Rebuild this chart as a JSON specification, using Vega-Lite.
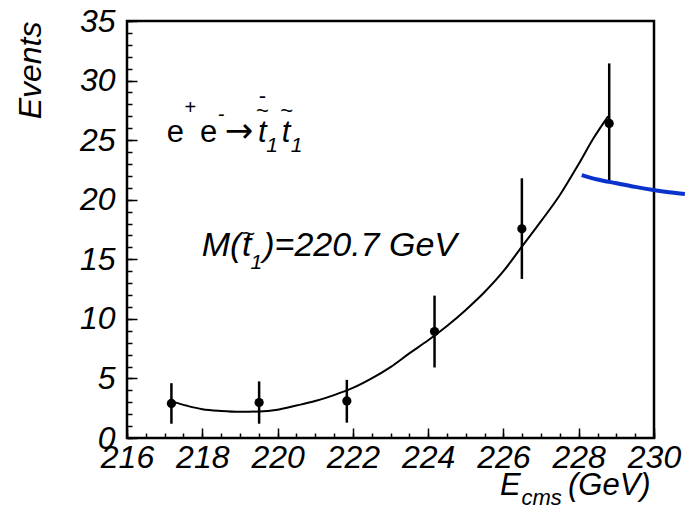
{
  "$schema": "https://vega.github.io/schema/vega-lite/v6.json",
  "width": 527,
  "height": 417,
  "autosize": {"type": "none"},
  "padding": {"left": 127, "top": 21, "right": 31, "bottom": 67},
  "background": "white",
  "config": {
    "view": {"stroke": "black", "strokeWidth": 2.5},
    "font": "Liberation Sans",
    "axis": {"grid": false, "domain": false, "labelColor": "black", "tickColor": "black", "titleColor": "black"}
  },
  "datasets": {
    "meas": [
      {"E": 217.18, "N": 2.9, "lo": 1.2, "hi": 4.6},
      {"E": 219.51, "N": 2.97, "lo": 1.2, "hi": 4.75},
      {"E": 221.84, "N": 3.11, "lo": 1.29, "hi": 4.88},
      {"E": 224.17, "N": 8.94, "lo": 5.92, "hi": 11.95},
      {"E": 226.49, "N": 17.56, "lo": 13.35, "hi": 21.8},
      {"E": 228.81, "N": 26.4, "lo": 21.6, "hi": 31.44}
    ],
    "fit": [
      {"E": 217.2, "N": 3.05}, {"E": 217.6, "N": 2.7}, {"E": 218.0, "N": 2.42}, {"E": 218.5, "N": 2.27},
      {"E": 219.0, "N": 2.2}, {"E": 219.5, "N": 2.22}, {"E": 220.0, "N": 2.37}, {"E": 220.5, "N": 2.72},
      {"E": 221.0, "N": 3.1}, {"E": 221.5, "N": 3.6}, {"E": 222.0, "N": 4.2}, {"E": 222.5, "N": 5.0},
      {"E": 223.0, "N": 5.95}, {"E": 223.5, "N": 7.1}, {"E": 224.0, "N": 8.2}, {"E": 224.5, "N": 9.4},
      {"E": 225.0, "N": 10.75}, {"E": 225.5, "N": 12.25}, {"E": 226.0, "N": 14.0}, {"E": 226.5, "N": 16.1},
      {"E": 227.0, "N": 18.2}, {"E": 227.5, "N": 20.4}, {"E": 228.0, "N": 23.0}, {"E": 228.4, "N": 25.2},
      {"E": 228.78, "N": 27.0}
    ],
    "blue": [
      {"E": 228.08, "N": 22.07}, {"E": 228.5, "N": 21.7}, {"E": 229.01, "N": 21.38},
      {"E": 229.5, "N": 21.08}, {"E": 229.98, "N": 20.82}, {"E": 230.4, "N": 20.63}, {"E": 230.82, "N": 20.48}
    ],
    "upBig": [
      {"E": 217.055, "N": 24.87, "t": "e"},
      {"E": 217.94, "N": 24.87, "t": "e"}
    ],
    "arrow": [
      {"E": 218.6, "N": 24.87, "t": "→"}
    ],
    "upSmall": [
      {"E": 217.53, "N": 27.2, "t": "+"},
      {"E": 218.42, "N": 26.6, "t": "-"}
    ],
    "itBig": [
      {"E": 219.48, "N": 24.87, "t": "t"},
      {"E": 220.11, "N": 24.87, "t": "t"}
    ],
    "itLine2": [
      {"E": 217.984, "N": 15.28, "t": "M("},
      {"E": 219.055, "N": 15.28, "t": "t"},
      {"E": 219.62, "N": 15.28, "t": ")=220.7 GeV"}
    ],
    "itSmall": [
      {"E": 219.7, "N": 24.03, "t": "1"},
      {"E": 220.35, "N": 24.03, "t": "1"},
      {"E": 219.28, "N": 14.18, "t": "1"}
    ],
    "accents": [
      {"E": 219.6, "N": 26.86, "t": "~"},
      {"E": 220.24, "N": 26.86, "t": "~"},
      {"E": 219.23, "N": 16.53, "t": "~"},
      {"E": 219.6, "N": 28.14, "t": "-"}
    ],
    "xTitleBig": [
      {"E": 225.91, "N": -4.78, "t": "E"},
      {"E": 227.715, "N": -4.78, "t": "(GeV)"}
    ],
    "xTitleSmall": [
      {"E": 226.48, "N": -5.62, "t": "cms"}
    ]
  },
  "resolve": {"axis": {"x": "independent", "y": "independent"}},
  "layer": [
    {
      "data": {"name": "meas"},
      "mark": {"type": "rule", "color": "black", "strokeWidth": 2.5},
      "encoding": {
        "x": {"field": "E", "type": "quantitative", "scale": {"domain": [216, 230], "nice": false, "zero": false},
              "axis": {"orient": "bottom", "values": [216, 218, 220, 222, 224, 226, 228, 230], "labels": false, "tickSize": -10, "tickWidth": 1.5, "title": null}},
        "y": {"field": "lo", "type": "quantitative", "scale": {"domain": [0, 35], "nice": false, "zero": false},
              "axis": {"orient": "left", "values": [0, 5, 10, 15, 20, 25, 30, 35], "labels": false, "tickSize": -10, "tickWidth": 1.5, "title": null}},
        "y2": {"field": "hi"}
      }
    },
    {
      "data": {"name": "fit"},
      "mark": {"type": "line", "color": "black", "strokeWidth": 2, "interpolate": "monotone"},
      "encoding": {
        "x": {"field": "E", "type": "quantitative", "scale": {"domain": [216, 230], "nice": false, "zero": false},
              "axis": {"orient": "bottom", "values": [216, 218, 220, 222, 224, 226, 228, 230], "ticks": false, "labelFontSize": 32, "labelFontStyle": "italic", "labelPadding": 4, "labelFlush": false, "labelOverlap": false, "title": null}},
        "y": {"field": "N", "type": "quantitative", "scale": {"domain": [0, 35], "nice": false, "zero": false},
              "axis": {"orient": "left", "values": [0, 5, 10, 15, 20, 25, 30, 35], "ticks": false, "labelFontSize": 32, "labelFontStyle": "italic", "labelPadding": 12, "labelFlush": false, "labelOverlap": false,
                       "title": "Events", "titleFontSize": 32, "titleFontStyle": "italic", "titleFontWeight": "normal", "titleAnchor": "end", "titlePadding": 32}}
      }
    },
    {
      "data": {"name": "meas"},
      "mark": {"type": "point", "filled": true, "color": "black", "opacity": 1, "size": 85},
      "encoding": {
        "x": {"field": "E", "type": "quantitative", "scale": {"domain": [216, 230], "nice": false, "zero": false},
              "axis": {"orient": "bottom", "values": [216, 216.5, 217, 217.5, 218, 218.5, 219, 219.5, 220, 220.5, 221, 221.5, 222, 222.5, 223, 223.5, 224, 224.5, 225, 225.5, 226, 226.5, 227, 227.5, 228, 228.5, 229, 229.5, 230], "labels": false, "tickSize": -5, "tickWidth": 1.5, "title": null}},
        "y": {"field": "N", "type": "quantitative", "scale": {"domain": [0, 35], "nice": false, "zero": false},
              "axis": {"orient": "left", "values": [0, 1, 2, 3, 4, 5, 6, 7, 8, 9, 10, 11, 12, 13, 14, 15, 16, 17, 18, 19, 20, 21, 22, 23, 24, 25, 26, 27, 28, 29, 30, 31, 32, 33, 34, 35], "labels": false, "tickSize": -5, "tickWidth": 1.5, "title": null}}
      }
    },
    {
      "data": {"name": "blue"},
      "mark": {"type": "line", "color": "#0a32cc", "strokeWidth": 4, "interpolate": "monotone"},
      "encoding": {
        "x": {"field": "E", "type": "quantitative", "scale": {"domain": [216, 230], "nice": false, "zero": false}, "axis": null},
        "y": {"field": "N", "type": "quantitative", "scale": {"domain": [0, 35], "nice": false, "zero": false}, "axis": null}
      }
    },
    {
      "data": {"name": "upBig"},
      "mark": {"type": "text", "align": "left", "baseline": "alphabetic", "fontSize": 31, "color": "black"},
      "encoding": {
        "x": {"field": "E", "type": "quantitative", "scale": {"domain": [216, 230], "nice": false, "zero": false}, "axis": null},
        "y": {"field": "N", "type": "quantitative", "scale": {"domain": [0, 35], "nice": false, "zero": false}, "axis": null},
        "text": {"field": "t"}
      }
    },
    {
      "data": {"name": "arrow"},
      "mark": {"type": "text", "align": "left", "baseline": "alphabetic", "fontSize": 34, "font": "DejaVu Sans", "color": "black"},
      "encoding": {
        "x": {"field": "E", "type": "quantitative", "scale": {"domain": [216, 230], "nice": false, "zero": false}, "axis": null},
        "y": {"field": "N", "type": "quantitative", "scale": {"domain": [0, 35], "nice": false, "zero": false}, "axis": null},
        "text": {"field": "t"}
      }
    },
    {
      "data": {"name": "upSmall"},
      "mark": {"type": "text", "align": "left", "baseline": "alphabetic", "fontSize": 20, "color": "black"},
      "encoding": {
        "x": {"field": "E", "type": "quantitative", "scale": {"domain": [216, 230], "nice": false, "zero": false}, "axis": null},
        "y": {"field": "N", "type": "quantitative", "scale": {"domain": [0, 35], "nice": false, "zero": false}, "axis": null},
        "text": {"field": "t"}
      }
    },
    {
      "data": {"name": "itBig"},
      "mark": {"type": "text", "align": "left", "baseline": "alphabetic", "fontSize": 31, "fontStyle": "italic", "color": "black"},
      "encoding": {
        "x": {"field": "E", "type": "quantitative", "scale": {"domain": [216, 230], "nice": false, "zero": false}, "axis": null},
        "y": {"field": "N", "type": "quantitative", "scale": {"domain": [0, 35], "nice": false, "zero": false}, "axis": null},
        "text": {"field": "t"}
      }
    },
    {
      "data": {"name": "itLine2"},
      "mark": {"type": "text", "align": "left", "baseline": "alphabetic", "fontSize": 34, "fontStyle": "italic", "color": "black"},
      "encoding": {
        "x": {"field": "E", "type": "quantitative", "scale": {"domain": [216, 230], "nice": false, "zero": false}, "axis": null},
        "y": {"field": "N", "type": "quantitative", "scale": {"domain": [0, 35], "nice": false, "zero": false}, "axis": null},
        "text": {"field": "t"}
      }
    },
    {
      "data": {"name": "itSmall"},
      "mark": {"type": "text", "align": "left", "baseline": "alphabetic", "fontSize": 21, "fontStyle": "italic", "color": "black"},
      "encoding": {
        "x": {"field": "E", "type": "quantitative", "scale": {"domain": [216, 230], "nice": false, "zero": false}, "axis": null},
        "y": {"field": "N", "type": "quantitative", "scale": {"domain": [0, 35], "nice": false, "zero": false}, "axis": null},
        "text": {"field": "t"}
      }
    },
    {
      "data": {"name": "accents"},
      "mark": {"type": "text", "align": "center", "baseline": "alphabetic", "fontSize": 22, "color": "black"},
      "encoding": {
        "x": {"field": "E", "type": "quantitative", "scale": {"domain": [216, 230], "nice": false, "zero": false}, "axis": null},
        "y": {"field": "N", "type": "quantitative", "scale": {"domain": [0, 35], "nice": false, "zero": false}, "axis": null},
        "text": {"field": "t"}
      }
    },
    {
      "data": {"name": "xTitleBig"},
      "mark": {"type": "text", "align": "left", "baseline": "alphabetic", "fontSize": 31, "fontStyle": "italic", "color": "black"},
      "encoding": {
        "x": {"field": "E", "type": "quantitative", "scale": {"domain": [216, 230], "nice": false, "zero": false}, "axis": null},
        "y": {"field": "N", "type": "quantitative", "scale": {"domain": [0, 35], "nice": false, "zero": false}, "axis": null},
        "text": {"field": "t"}
      }
    },
    {
      "data": {"name": "xTitleSmall"},
      "mark": {"type": "text", "align": "left", "baseline": "alphabetic", "fontSize": 22, "fontStyle": "italic", "color": "black"},
      "encoding": {
        "x": {"field": "E", "type": "quantitative", "scale": {"domain": [216, 230], "nice": false, "zero": false}, "axis": null},
        "y": {"field": "N", "type": "quantitative", "scale": {"domain": [0, 35], "nice": false, "zero": false}, "axis": null},
        "text": {"field": "t"}
      }
    }
  ]
}
